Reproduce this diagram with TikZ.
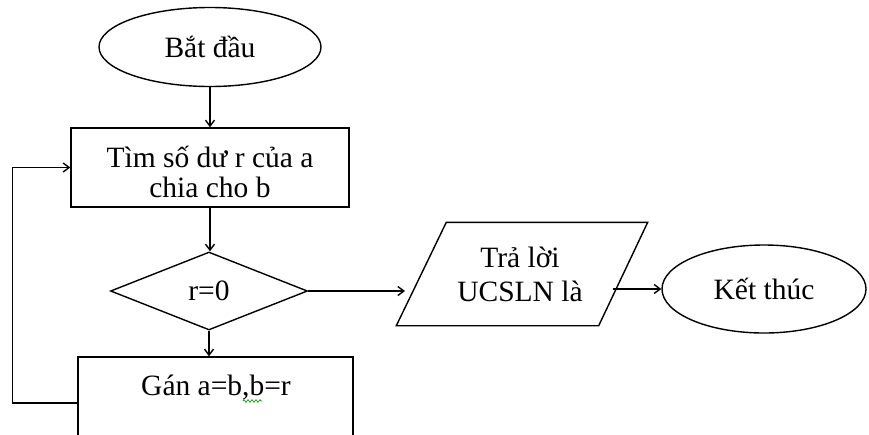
\documentclass[tikz,border=0pt]{standalone}
\usepackage{fontspec}
\setmainfont{Liberation Serif}
\usetikzlibrary{shapes.geometric,arrows.meta,decorations.pathmorphing}
\begin{document}
\begin{tikzpicture}[x=1pt,y=-1pt,
  every node/.style={line width=1.4pt,inner sep=0pt,font=\fontsize{29.5}{30}\selectfont},
  terminal/.style={draw,ellipse},
  process/.style={draw,rectangle},
  decision/.style={draw,diamond},
  flow/.style={line width=1.4pt,-{Straight Barb[length=6pt,width=9pt]}},
  outline/.style={line width=1.4pt,line join=miter}]
\clip (0,0) rectangle (869,434);
\fill[white] (0,0) rectangle (869,434);

\node[terminal,minimum width=222pt,minimum height=79pt] (start) at (210,47) {Bắt đầu};
\node[process,minimum width=278pt,minimum height=79pt,align=center] (calc) at (210,167.5)
  {\rule{0pt}{30pt}Tìm số dư r của a\\chia cho b};
\node[decision,minimum width=197pt,minimum height=78pt] (test) at (209,291) {r=0};
\node[process,minimum width=275pt,minimum height=92pt] (assign) at (215.5,403) {};
\node[anchor=base] (assigntext) at (216,395) {Gán a=b,b=r};

% output box: text node plus a slanted outline
\node[minimum width=250pt,minimum height=102pt,align=center,font=\fontsize{29.5}{34}\selectfont] (out) at (520,274) {Trả lời\\UCSLN là};
\draw[outline] ([xshift=-73pt]out.north east) -- ([xshift=2pt]out.north east)
  -- ([xshift=-47pt]out.south east) -- ([xshift=2pt]out.south west) -- ([xshift=52pt]out.north west) -- cycle;
\coordinate (outin) at (405,291);
\coordinate (outout) at (613,289);

\node[terminal,minimum width=204pt,minimum height=88pt] (stop) at (764,289) {Kết thúc};

% spelling mark under the comma
\draw[green!55!black,line width=0.6pt,decorate,decoration={zigzag,segment length=4pt,amplitude=1.4pt}]
  (243,401) -- (262,401);

\draw[flow] (start.south) -- (calc.north);
\draw[flow] (calc.south) -- (calc.south |- test.north);
\draw[flow] (test.south) -- (test.south |- assign.north);
\draw[flow] (test.east) -- (outin);
\draw[flow] (outout) -- (stop.west);
\draw[flow] (assign.west) -- ++(-65,0) |- (calc.west);
\end{tikzpicture}
\end{document}
